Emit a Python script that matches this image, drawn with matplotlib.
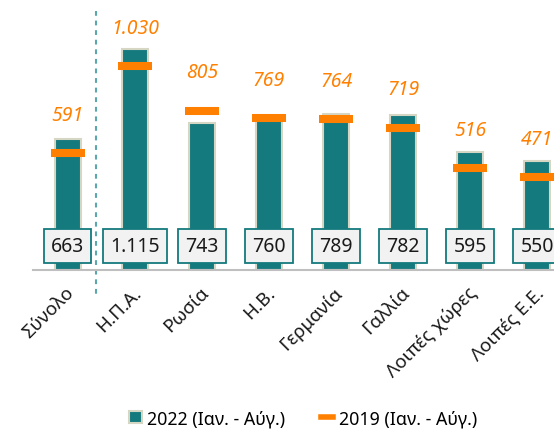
import matplotlib
matplotlib.use("Agg")
import matplotlib.pyplot as plt
from matplotlib.patches import Patch
from matplotlib.lines import Line2D
from matplotlib.transforms import ScaledTranslation

plt.rcParams['font.family'] = ['Noto Sans', 'DejaVu Sans']

categories = ["Σύνολο", "Η.Π.Α.", "Ρωσία", "Η.Β.", "Γερμανία", "Γαλλία", "Λοιπές χώρες", "Λοιπές Ε.Ε."]
values_2022 = [663, 1115, 743, 760, 789, 782, 595, 550]
values_2019 = [591, 1030, 805, 769, 764, 719, 516, 471]
labels_2022 = ["663", "1.115", "743", "760", "789", "782", "595", "550"]
labels_2019 = ["591", "1.030", "805", "769", "764", "719", "516", "471"]
legend_2022 = "2022 (Ιαν. - Αύγ.)"
legend_2019 = "2019 (Ιαν. - Αύγ.)"

TEAL = "#157a7e"
EDGE = "#d6d6c4"
ORANGE = "#ff8000"
W, H = 554, 431

fig = plt.figure(figsize=(W / 100, H / 100), dpi=100)
ax = fig.add_axes([33 / W, 160 / H, (W - 33) / W, 271 / H])

x = list(range(len(categories)))
ax.bar(x, values_2022, width=0.38, color=TEAL, edgecolor=EDGE, linewidth=1.5, zorder=2)
ax.hlines(values_2019, [i - 0.255 for i in x], [i + 0.255 for i in x],
          colors=ORANGE, linewidth=5.8, zorder=3)

for i in x:
    ax.annotate(labels_2019[i], (i, values_2019[i]), xytext=(0, 27.5),
                textcoords="offset points", ha="center", va="center",
                color=ORANGE, fontsize=14, fontstyle="italic", zorder=4)
    ax.annotate(labels_2022[i], (i, 0), xytext=(0, 17.6),
                textcoords="offset points", ha="center", va="center",
                color="#1a1a1a", fontsize=14, zorder=5,
                bbox=dict(boxstyle="square,pad=0.36", fc="#f2f2f2", ec=TEAL, lw=1.3))

ax.set_xlim(-0.52, 7.25)
ax.set_ylim(0, 1369)
for s in ["left", "right", "top"]:
    ax.spines[s].set_visible(False)
ax.spines["bottom"].set_color("#bfbfbf")
ax.spines["bottom"].set_linewidth(1.5)
ax.set_yticks([])
ax.set_xticks(x)
ax.set_xticklabels(categories, rotation=45, ha="right", va="center",
                   rotation_mode="anchor", fontsize=13.5, color="#1a1a1a")
ax.tick_params(axis="x", length=0, pad=14)
shift = ScaledTranslation(0.035, 0, fig.dpi_scale_trans)
for lab in ax.get_xticklabels():
    lab.set_transform(lab.get_transform() + shift)

trans = ax.get_xaxis_transform()
ax.plot([0.42, 0.42], [0.956, -0.092], transform=trans, color="#5aa7ad",
        linewidth=1.5, linestyle=(0, (2.3, 2.3)), clip_on=False, zorder=1)

handles = [Patch(facecolor=TEAL, edgecolor=EDGE, linewidth=1.5),
           Line2D([0], [0], color=ORANGE, linewidth=4)]
fig.legend(handles, [legend_2022, legend_2019], loc="center",
           bbox_to_anchor=(0.547, 0.027), ncol=2, frameon=False,
           fontsize=12.8, handlelength=0.7, handleheight=0.7,
           handletextpad=0.3, columnspacing=2.0)

fig.savefig("out.png", dpi=100)
